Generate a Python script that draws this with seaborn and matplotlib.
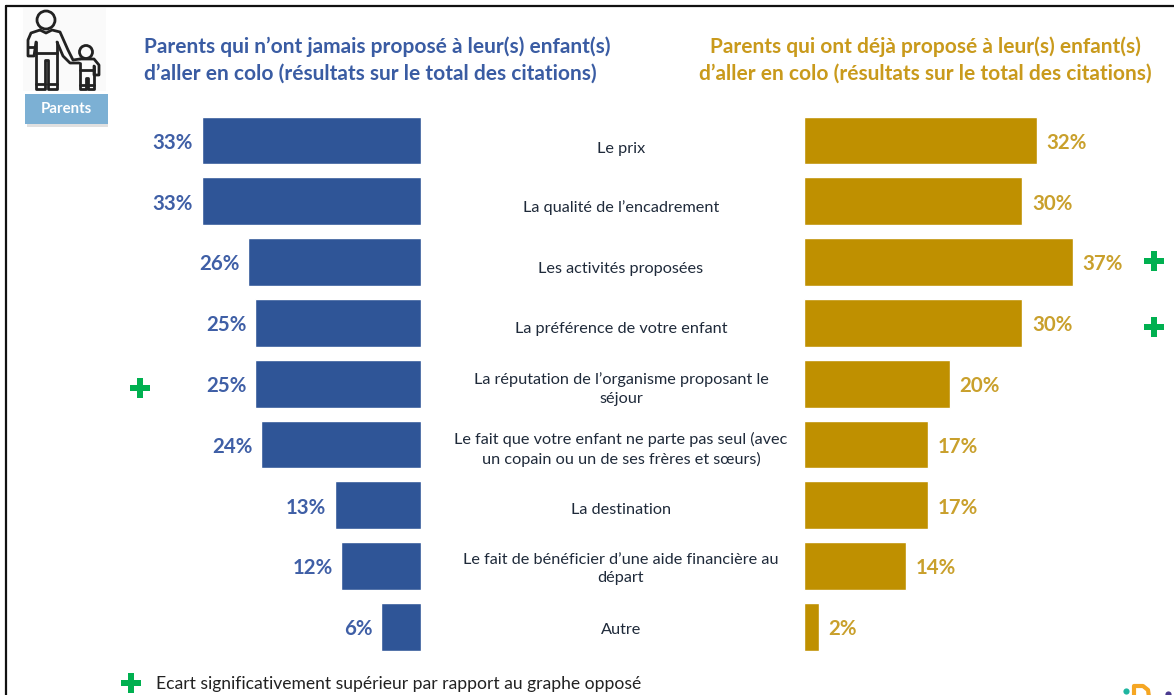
import pandas as pd
import matplotlib
matplotlib.use("Agg")
import matplotlib.pyplot as plt
from matplotlib.patches import Circle, Rectangle
import seaborn as sns

categories = [
    "Le prix",
    "La qualité de l’encadrement",
    "Les activités proposées",
    "La préférence de votre enfant",
    "La réputation de l’organisme proposant le\nséjour",
    "Le fait que votre enfant ne parte pas seul (avec\nun copain ou un de ses frères et sœurs)",
    "La destination",
    "Le fait de bénéficier d’une aide financière au\ndépart",
    "Autre",
]
jamais = [33, 33, 26, 25, 25, 24, 13, 12, 6]
deja = [32, 30, 37, 30, 20, 17, 17, 14, 2]

title_left = "Parents qui n’ont jamais proposé à leur(s) enfant(s)\nd’aller en colo (résultats sur le total des citations)"
title_right = "Parents qui ont déjà proposé à leur(s) enfant(s)\nd’aller en colo (résultats sur le total des citations)"
legend_text = "Ecart significativement supérieur par rapport au graphe opposé"

BLUE = "#2F5597"
GOLD = "#BF9000"
GREEN = "#00B050"
W, H = 1174, 695

sns.set_theme(style="white")
plt.rcParams["font.family"] = ["Lato", "DejaVu Sans"]

df = pd.DataFrame({"cat": categories, "jamais": jamais, "deja": deja})
fig = plt.figure(figsize=(W / 100, H / 100), dpi=100, facecolor="white")

# rows: first bar centred at y=140.5 px, one row every 60.8 px
ylim = ((H - 140.5) / 60.8, -140.5 / 60.8)

ax_l = fig.add_axes([0, 0, 421 / W, 1])
sns.barplot(data=df, y="cat", x="jamais", color=BLUE, saturation=1, width=0.785, ax=ax_l)
ax_l.set_xlim(421 / 6.65, 0)

ax_r = fig.add_axes([804.5 / W, 0, (W - 804.5) / W, 1])
sns.barplot(data=df, y="cat", x="deja", color=GOLD, saturation=1, width=0.785, ax=ax_r)
ax_r.set_xlim(0, (W - 804.5) / 7.26)

for ax, col, pad in [(ax_l, "#3F5FA6", 6), (ax_r, "#C9A02C", 7)]:
    ax.set_ylim(*ylim)
    ax.axis("off")
    ax.patch.set_alpha(0)
    labels = ax.bar_label(ax.containers[0], fmt="%g%%", padding=pad, color=col,
                          fontsize=14.7, fontweight="bold")
    for t in labels:
        t.xyann = (t.xyann[0], -1.6)

# overlay in pixel coordinates for everything around the bars
ov = fig.add_axes([0, 0, 1, 1], zorder=5)
ov.set_xlim(0, W)
ov.set_ylim(H, 0)
ov.axis("off")
ov.patch.set_alpha(0)

# frame (top and left only, the crop cuts the rest)
ov.plot([6, W], [5.5, 5.5], color="#111111", lw=1.6, clip_on=False)
ov.plot([6, 6], [5.5, H], color="#111111", lw=1.6, clip_on=False)

ov.text(144, 60, title_left, color="#3A5CA3", fontsize=15, fontweight="bold",
        ha="left", va="center", linespacing=1.42)
ov.text(925, 60, title_right, color="#C99A1C", fontsize=15, fontweight="bold",
        ha="center", va="center", multialignment="center", linespacing=1.42)

label_y = [149, 208, 269, 329, 389, 449.5, 510, 569, 630]
for lab, y in zip(categories, label_y):
    ov.text(621, y, lab, color="#1F2A3A", fontsize=11.7, ha="center", va="center",
            linespacing=1.42)

plus_left_xy = [(140, 388)]
plus_right_xy = [(1154, 261), (1154, 327)]
plus_legend_xy = [(131, 683)]
for x, y in plus_left_xy + plus_right_xy + plus_legend_xy:
    ov.scatter([x], [y], marker="P", s=215, color=GREEN, linewidths=0)
ov.text(156, 684, legend_text, color="#222222", fontsize=12.6, ha="left", va="center")

# parent and child pictogram
ink = dict(color="#222222", lw=2, solid_capstyle="round", solid_joinstyle="round")
ov.add_patch(Rectangle((23, 8), 83, 83, color="#FAFAFA", lw=0, zorder=0))
ov.add_patch(Circle((46, 20), 9, fill=False, ec="#222222", lw=2))
ov.add_patch(Circle((86, 52), 6.5, fill=False, ec="#222222", lw=2))
parent = [
    [(40, 30), (31, 33), (28, 40), (28, 56), (34, 56), (36, 42)],
    [(28, 47), (34, 47)],
    [(36, 42), (36, 89), (45, 89), (45, 60), (48, 60), (48, 89), (57, 89), (57, 42)],
    [(36, 53), (57, 53)],
    [(36, 84), (45, 84)],
    [(48, 84), (57, 84)],
    [(40, 30), (46, 33), (52, 30), (60, 32), (68, 50), (73, 60), (80, 59)],
    [(57, 42), (63, 56), (70, 63), (79, 63)],
]
child = [
    [(80, 59), (94, 59), (99, 65), (99, 75), (94, 75), (94, 66)],
    [(80, 63), (80, 89), (86, 89), (86, 78), (88, 78), (88, 89), (94, 89), (94, 66)],
    [(80, 70), (94, 70)],
    [(80, 85), (86, 85)],
    [(88, 85), (94, 85)],
]
for line in parent + child:
    ov.plot([p[0] for p in line], [p[1] for p in line], **ink)

# "Parents" tag
ov.add_patch(Rectangle((26.5, 96), 81, 31, color="#E0E0E0", lw=0))
ov.add_patch(Rectangle((24.5, 93.5), 83, 30.5, color="#7CB0D4", lw=0))
ov.text(66, 109, "Parents", color="white", fontsize=10.8, fontweight="bold",
        ha="center", va="center")

# logo cut off by the bottom edge
logo_d = [(1134, 697), (1134, 686), (1143, 686), (1148, 690), (1149, 697)]
ov.plot([p[0] for p in logo_d], [p[1] for p in logo_d], color="#F5A623", lw=3, clip_on=True)
ov.scatter([1126], [691], s=20, color="#1FB5A0", linewidths=0, clip_on=True)
ov.scatter([1168], [694], s=20, color="#4B3A8F", linewidths=0, clip_on=True)

fig.savefig("out.png", dpi=100)
